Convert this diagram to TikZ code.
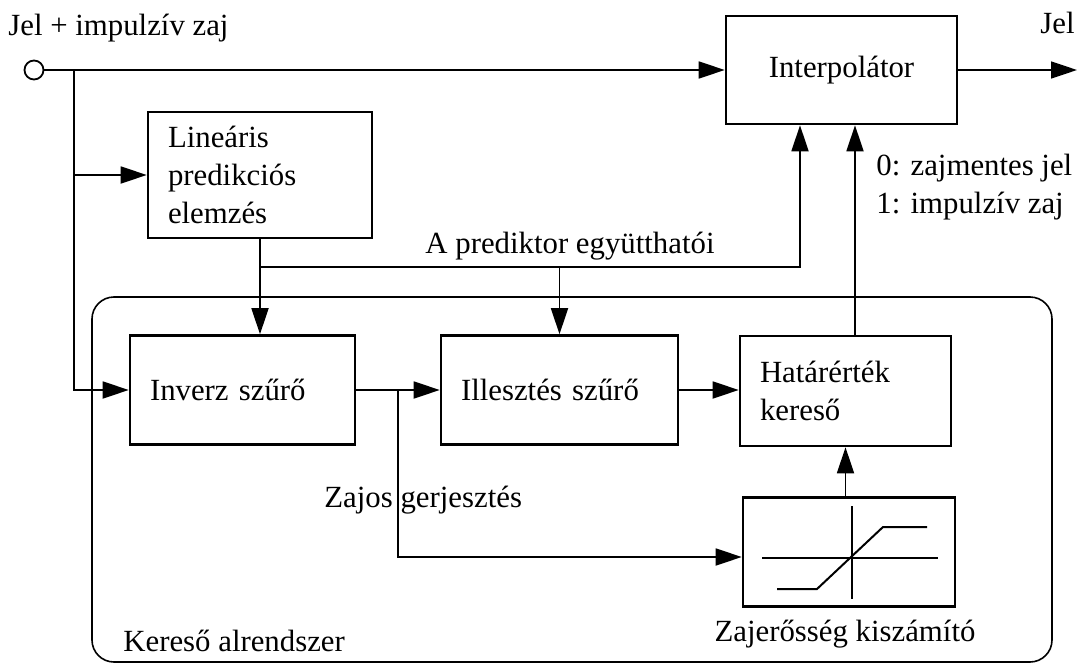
\documentclass[tikz,border=0pt]{standalone}
\usepackage{fontspec}
\setmainfont{Liberation Serif}
\usetikzlibrary{arrows.meta,calc}

\begin{document}
\begin{tikzpicture}[x=0.5pt, y=-0.5pt, >={Triangle[length=13pt,width=8.5pt]}, font=\fontsize{15.4}{18.8}\selectfont,
  box/.style={draw, line width=1.3pt, inner xsep=10pt, minimum height=54.5pt, align=left},
  conn/.style={line width=0.9pt},
  lbl/.style={inner sep=0pt, anchor=base west}]
\useasboundingbox (0,0) rectangle (1077,664);
% subsystem frame
\draw[line width=0.8pt, rounded corners=11pt] (92,297) rectangle (1052,662);
% blocks
\node[circle, draw, line width=0.9pt, minimum size=9.5pt, inner sep=0pt] (in) at (34,70) {};
\node[box, minimum width=115.5pt, minimum height=54pt] (interp) at (841.5,70) {Interpolátor};
\node[box, text width=92pt, minimum height=63pt] (lpa) at (260,175) {Lineáris\\predikciós\\elemzés};
\node[box, text width=92.5pt] (inv) at (242.5,390) {Inverz szűrő};
\node[box, text width=98.5pt] (ill) at (559.5,390) {Illesztés szűrő};
\node[box, text width=85.5pt, minimum height=55pt] (thr) at (845.5,391) {Határérték\\kereső};
\node[box, minimum width=106pt, inner sep=0pt] (noise) at (849,552) {};
\begin{scope}[shift={($(noise.center)+(3,6)$)}, line width=1pt]
\draw (-90,0) -- (86,0);
\draw (0,-52) -- (0,41);
\draw (-75,31) -- (-35,31) -- (31,-31) -- (75,-31);
\end{scope}
% junctions
\coordinate (br) at (74,70);
\coordinate (out) at (1077,70);
\path (lpa.south) ++(0,28) coordinate (cf);
\coordinate (pin1) at ($(interp.south)+(-41.5,0)$);
\coordinate (pin2) at ($(interp.south)+(13.5,0)$);
\coordinate (zj) at ($(inv.east)!0.5!(ill.west)$);
\coordinate (nin) at ($(noise.west)+(0,5)$);
% connectors
\draw[conn,->] (in) -- (interp);
\draw[conn,->] (interp) -- (out);
\draw[conn,->] (br) |- (inv.west);
\draw[conn,->] (br |- lpa.west) -- (lpa.west);
\draw[conn,->] (lpa) -- (lpa |- inv.north);
\draw[conn,->] (cf) -| (pin1);
\draw[conn,->] (cf -| ill.north) -- (ill.north);
\draw[conn,->] (inv) -- (ill);
\draw[conn,->] (ill) -- (ill -| thr.west);
\draw[conn,->] (zj) |- (nin);
\draw[conn,->] (thr.south |- noise.north) -- (thr.south);
\draw[conn,->] (pin2 |- thr.north) -- (pin2);
% labels
\node[lbl] (inlbl) at (8,35) {Jel + impulzív zaj};
\node[lbl] (outlbl) at (1040,33) {Jel};
\node[lbl, anchor=west, align=left] (flag) at (876,187) {0: zajmentes jel\\1: impulzív zaj};
\node[lbl, anchor=base] (coef) at (570,253) {A prediktor együtthatói};
\node[lbl] (zjlbl) at (324,507) {Zajos gerjesztés};
\node[lbl] (sublbl) at (123,651) {Kereső alrendszer};
\node[lbl, anchor=base] (nlbl) at (845,641) {Zajerősség kiszámító};
\end{tikzpicture}
\end{document}
